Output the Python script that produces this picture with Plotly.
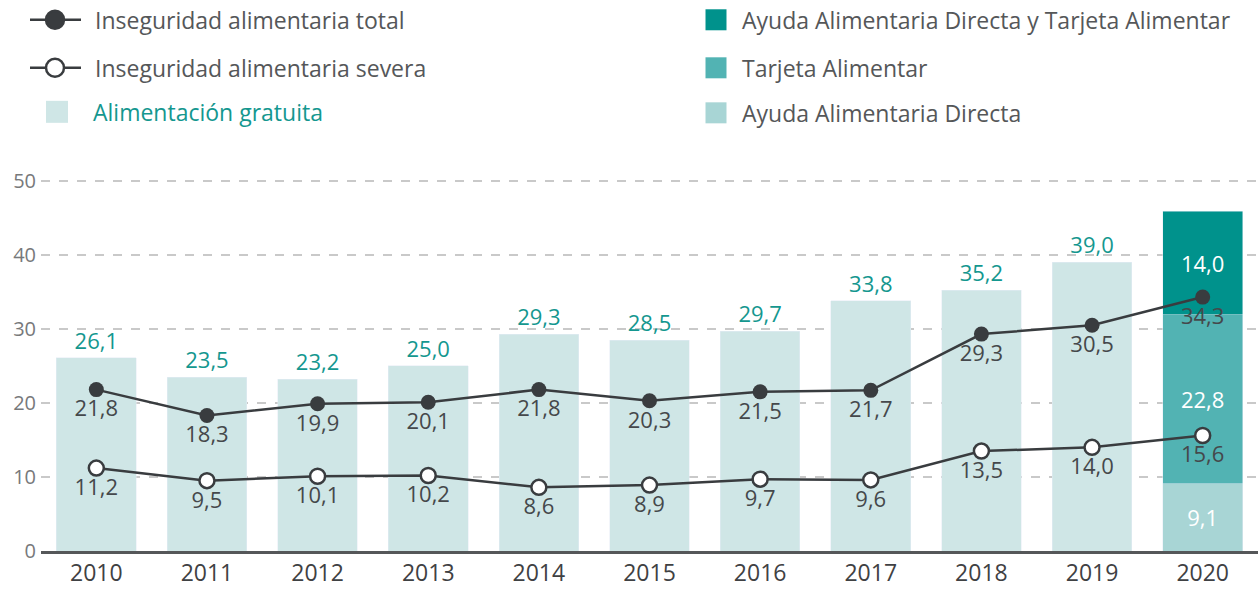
import plotly.graph_objects as go

years = ["2010", "2011", "2012", "2013", "2014", "2015", "2016", "2017", "2018", "2019", "2020"]
free_food_years = years[:10]
free_food = [26.1, 23.5, 23.2, 25.0, 29.3, 28.5, 29.7, 33.8, 35.2, 39.0]
ada_2020 = [9.1]
ta_2020 = [22.8]
both_2020 = [14.0]
total_insec = [21.8, 18.3, 19.9, 20.1, 21.8, 20.3, 21.5, 21.7, 29.3, 30.5, 34.3]
severe_insec = [11.2, 9.5, 10.1, 10.2, 8.6, 8.9, 9.7, 9.6, 13.5, 14.0, 15.6]

FONT = "Open Sans"
C_FREE = "#cfe6e6"
C_ADA = "#a8d5d5"
C_TA = "#52b3b3"
C_BOTH = "#00928c"
C_TEAL_TXT = "#14978f"
C_LINE = "#393c3f"
C_LBL = "#45484b"
C_LEG = "#555759"

W, H = 1258, 590
Y_MAX = 50.25
ML, MR, MB = 41, 0, 39
PH = 370 * Y_MAX / 50
MT = H - MB - PH
PW = W - ML - MR

def px_x(px):
    return (px - ML) / PW

def px_y(py):
    return (H - MB - py) / PH

fig = go.Figure()

fig.add_trace(go.Bar(x=free_food_years, y=free_food, marker_color=C_FREE,
                     texttemplate="%{y:.1f}", textposition="outside",
                     textfont=dict(color=C_TEAL_TXT, size=22, family=FONT),
                     cliponaxis=False, name="Alimentación gratuita"))
fig.add_trace(go.Bar(x=["2020"], y=ada_2020, marker_color=C_ADA,
                     texttemplate="%{y:.1f}", textposition="inside", insidetextanchor="middle",
                     textfont=dict(color="white", size=22, family=FONT), name="Ayuda Alimentaria Directa"))
fig.add_trace(go.Bar(x=["2020"], y=ta_2020, marker_color=C_TA,
                     texttemplate="%{y:.1f}", textposition="inside", insidetextanchor="middle",
                     textfont=dict(color="white", size=22, family=FONT), name="Tarjeta Alimentar"))
fig.add_trace(go.Bar(x=["2020"], y=both_2020, marker_color=C_BOTH,
                     texttemplate="%{y:.1f}", textposition="inside", insidetextanchor="middle",
                     textfont=dict(color="white", size=22, family=FONT),
                     name="Ayuda Alimentaria Directa y Tarjeta Alimentar"))

fig.add_trace(go.Scatter(x=years, y=total_insec, mode="lines+markers+text",
                         line=dict(color=C_LINE, width=2.5),
                         marker=dict(size=15, color=C_LINE, line=dict(color=C_LINE, width=0)),
                         texttemplate="%{y:.1f}", textposition="bottom center",
                         textfont=dict(color=C_LBL, size=22, family=FONT),
                         cliponaxis=False, name="Inseguridad alimentaria total"))
fig.add_trace(go.Scatter(x=years, y=severe_insec, mode="lines+markers+text",
                         line=dict(color=C_LINE, width=2.5),
                         marker=dict(size=15, color="white", line=dict(color=C_LINE, width=2.5)),
                         texttemplate="%{y:.1f}", textposition="bottom center",
                         textfont=dict(color=C_LBL, size=22, family=FONT),
                         cliponaxis=False, name="Inseguridad alimentaria severa"))

shapes = []
annotations = []
LEG_SIZE = 23

def line_item(py, filled, label):
    shapes.append(dict(type="line", xref="paper", yref="paper",
                       x0=px_x(30), x1=px_x(81), y0=px_y(py), y1=px_y(py),
                       line=dict(color=C_LINE, width=2.5)))
    r = 9
    shapes.append(dict(type="circle", xref="paper", yref="paper",
                       x0=px_x(55 - r), x1=px_x(55 + r), y0=px_y(py + r), y1=px_y(py - r),
                       fillcolor=C_LINE if filled else "white",
                       line=dict(color=C_LINE, width=2.5)))
    annotations.append(dict(xref="paper", yref="paper", x=px_x(93), y=px_y(py),
                            xanchor="left", yanchor="middle", showarrow=False, text=label,
                            font=dict(family=FONT, size=LEG_SIZE, color=C_LEG)))

def square_item(cx, py, color, tx, label, tcolor, half=11):
    shapes.append(dict(type="rect", xref="paper", yref="paper",
                       x0=px_x(cx - half), x1=px_x(cx + half), y0=px_y(py + half), y1=px_y(py - half),
                       fillcolor=color, line=dict(width=0)))
    annotations.append(dict(xref="paper", yref="paper", x=px_x(tx), y=px_y(py),
                            xanchor="left", yanchor="middle", showarrow=False, text=label,
                            font=dict(family=FONT, size=LEG_SIZE, color=tcolor)))

line_item(20, True, "Inseguridad alimentaria total")
line_item(68, False, "Inseguridad alimentaria severa")
square_item(57, 112, C_FREE, 91, "Alimentación gratuita", C_TEAL_TXT, half=11)
square_item(716, 20, C_BOTH, 740, "Ayuda Alimentaria Directa y Tarjeta Alimentar", C_LEG, half=10.5)
square_item(716, 68, C_TA, 740, "Tarjeta Alimentar", C_LEG, half=10.5)
square_item(716, 113, C_ADA, 740, "Ayuda Alimentaria Directa", C_LEG, half=10.5)

fig.update_layout(
    width=W, height=H,
    margin=dict(l=ML, r=MR, t=MT, b=MB, autoexpand=False),
    barmode="stack", bargap=0.28,
    plot_bgcolor="white", paper_bgcolor="white",
    separators=",.",
    showlegend=False,
    shapes=shapes, annotations=annotations,
    font=dict(family=FONT),
    xaxis=dict(type="category", range=[-0.5, len(years) - 0.5], showgrid=False,
               showline=True, linecolor="#555759", linewidth=2.5,
               ticks="", tickfont=dict(size=23, color="#3f4143", family=FONT, weight=500),
               automargin=False, fixedrange=True),
    yaxis=dict(range=[0, Y_MAX], tickvals=[0, 10, 20, 30, 40, 50], showgrid=True,
               gridcolor="#c9c9c9", gridwidth=1.5, griddash="dash", zeroline=False,
               ticks="", tickfont=dict(size=20, color="#77797b", family=FONT),
               ticklabelstandoff=4, automargin=False, fixedrange=True),
)

fig.write_html("out.html", config={"displayModeBar": False},
               post_script="document.body.style.margin='0';document.body.style.overflow='hidden';")
